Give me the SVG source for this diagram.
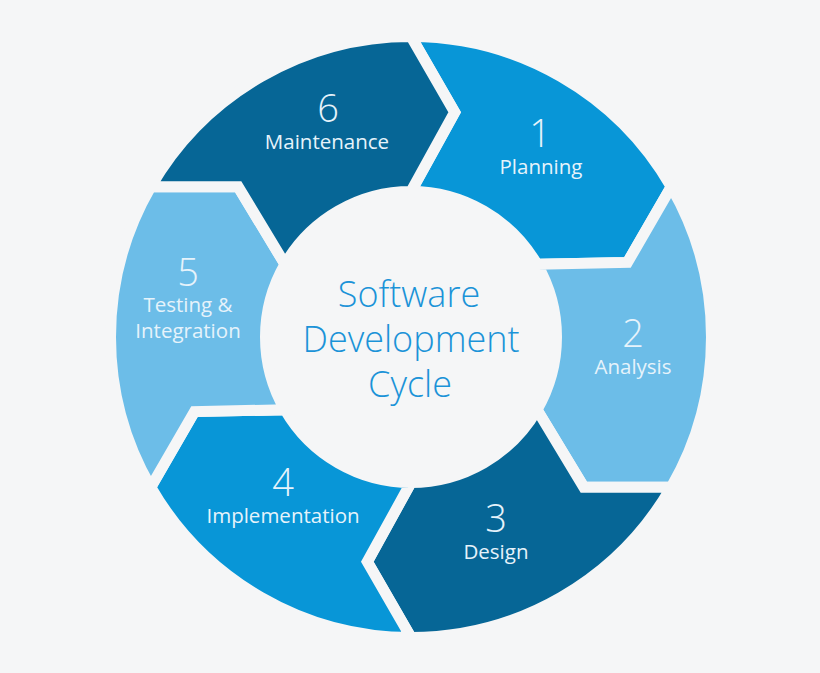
<svg xmlns="http://www.w3.org/2000/svg" width="820" height="673" viewBox="0 0 820 673">
<style>
.seg{stroke:#f5f6f7;stroke-width:11;stroke-linejoin:miter}
.dark{fill:#066696}
.mid{fill:#0896d7}
.light{fill:#6cbde8}
.num{font-family:"Open Sans","DejaVu Sans",sans-serif;font-weight:300;font-size:38px;fill:#e6f3fb;text-anchor:middle}
.lbl{font-family:"Open Sans","DejaVu Sans",sans-serif;font-weight:400;font-size:20.5px;fill:#e6f3fb;text-anchor:middle}
.ctr{font-family:"Open Sans","DejaVu Sans",sans-serif;font-weight:300;font-size:36px;fill:#1b93d8;text-anchor:middle}
</style>
<rect width="820" height="673" fill="#f5f6f7"/>
<g id="connectors"></g>
<g id="node-1">
<path class="seg mid" d="M411 36.5 A300.5 300.5 0 0 1 671.24 186.75 L627.5 262.4 L537 264.25 A145.5 145.5 0 0 0 411 191.5 L454.7 112.2 Z"/>
<text class="num" x="540" y="147">1</text>
<text class="lbl" x="541" y="174">Planning</text>
</g>
<g id="node-2">
<path class="seg light" d="M671.24 186.75 A300.5 300.5 0 0 1 671.24 487.25 L583.8 487.2 L537 409.75 A145.5 145.5 0 0 0 537 264.25 L627.5 262.4 Z"/>
<text class="num" x="633" y="347">2</text>
<text class="lbl" x="633" y="374">Analysis</text>
</g>
<g id="node-3">
<path class="seg dark" d="M671.24 487.25 A300.5 300.5 0 0 1 411 637.5 L367.3 561.8 L411 482.5 A145.5 145.5 0 0 0 537 409.75 L583.8 487.2 Z"/>
<text class="num" x="496" y="532">3</text>
<text class="lbl" x="496" y="559">Design</text>
</g>
<g id="node-4">
<path class="seg mid" d="M411 637.5 A300.5 300.5 0 0 1 150.76 487.25 L194.5 411.6 L285 409.75 A145.5 145.5 0 0 0 411 482.5 L367.3 561.8 Z"/>
<text class="num" x="283" y="496">4</text>
<text class="lbl" x="283" y="523">Implementation</text>
</g>
<g id="node-5">
<path class="seg light" d="M150.76 487.25 A300.5 300.5 0 0 1 150.76 186.75 L238.2 186.8 L285 264.25 A145.5 145.5 0 0 0 285 409.75 L194.5 411.6 Z"/>
<text class="num" x="188" y="286">5</text>
<text class="lbl" x="188" y="312">Testing &amp;</text>
<text class="lbl" x="188" y="338">Integration</text>
</g>
<g id="node-6">
<path class="seg dark" d="M150.76 186.75 A300.5 300.5 0 0 1 411 36.5 L454.7 112.2 L411 191.5 A145.5 145.5 0 0 0 285 264.25 L238.2 186.8 Z"/>
<text class="num" x="328" y="122">6</text>
<text class="lbl" x="327" y="149">Maintenance</text>
</g>
<g id="center">
<text class="ctr" x="409" y="307">Software</text>
<text class="ctr" x="411" y="352">Development</text>
<text class="ctr" x="410" y="397">Cycle</text>
</g>
</svg>
